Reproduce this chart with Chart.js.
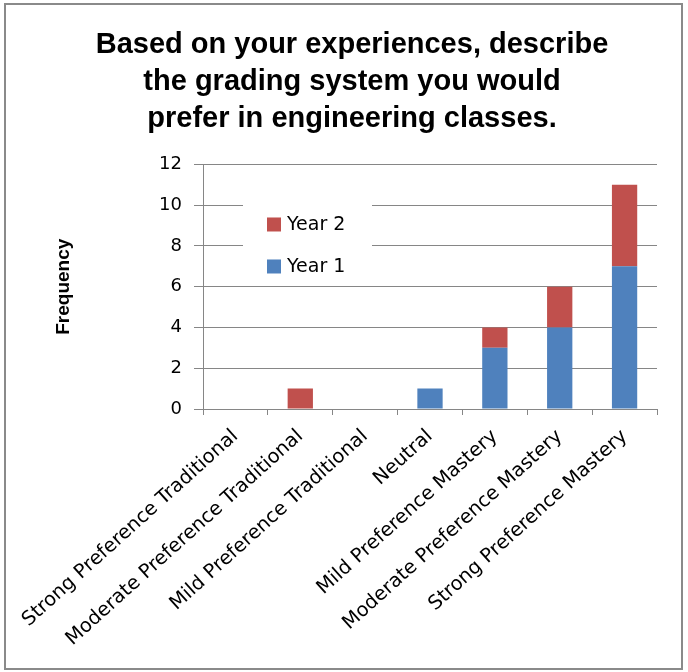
<!DOCTYPE html>
<html lang="en">
<head>
    <meta charset="UTF-8">
    <title>Grading System Preference</title>
    <script src="https://cdn.jsdelivr.net/npm/chart.js"></script>
    <style>
        html, body { margin: 0; padding: 0; background: #fff; }
        .wrap { position: relative; width: 688px; height: 672px; }
        .frame {
            position: absolute; left: 4px; top: 3px;
            width: 675px; height: 663px;
            border: 2px solid #8a8a8a;
            pointer-events: none;
        }
    </style>
</head>
<body>
    <div class="wrap">
        <canvas id="gradingChart" width="688" height="672"></canvas>
        <div class="frame"></div>
    </div>

    <script>
        // chart values
        const categories = [
            'Strong Preference Traditional',
            'Moderate Preference Traditional',
            'Mild Preference Traditional',
            'Neutral',
            'Mild Preference Mastery',
            'Moderate Preference Mastery',
            'Strong Preference Mastery'
        ];
        const year1 = [0, 0, 0, 1, 3, 4, 7];
        const year2 = [0, 1, 0, 0, 1, 2, 4];
        const yTicks = [0, 2, 4, 6, 8, 10, 12];

        const gridGray = '#868686';

        // legend drawn inside the plot area, like the original
        const insideLegend = {
            id: 'insideLegend',
            afterDraw(chart) {
                const ctx = chart.ctx;
                const area = chart.chartArea;
                const x = area.left + 40;
                const y = area.top + 25;
                ctx.save();
                ctx.fillStyle = '#fff';
                ctx.fillRect(x, y, 129, 95);
                const items = chart.data.datasets.slice().reverse();
                ctx.font = '19px "DejaVu Sans"';
                ctx.textBaseline = 'middle';
                items.forEach((ds, i) => {
                    const cy = area.top + 60 + i * 42;
                    ctx.fillStyle = ds.backgroundColor;
                    ctx.fillRect(x + 24, cy - 7, 14, 14);
                    ctx.fillStyle = '#000';
                    ctx.fillText(ds.label, x + 44, cy + 1);
                });
                ctx.restore();
            }
        };

        new Chart(document.getElementById('gradingChart'), {
            type: 'bar',
            data: {
                labels: categories,
                datasets: [
                    { label: 'Year 1', data: year1, backgroundColor: '#4f81bd' },
                    { label: 'Year 2', data: year2, backgroundColor: '#c0504d' }
                ]
            },
            options: {
                responsive: false,
                animation: false,
                layout: { padding: { left: 47, right: 31, top: 0, bottom: 0 } },
                datasets: { bar: { categoryPercentage: 1, barPercentage: 0.39 } },
                plugins: {
                    legend: { display: false },
                    tooltip: { enabled: false },
                    title: {
                        display: true,
                        text: [
                            'Based on your experiences, describe',
                            'the grading system you would',
                            'prefer in engineering classes.'
                        ],
                        color: '#000',
                        font: { family: 'Liberation Sans', size: 29, weight: 'bold', lineHeight: 1.27 },
                        padding: { top: 27, bottom: 27 }
                    }
                },
                scales: {
                    x: {
                        stacked: true,
                        grid: { offset: true, drawOnChartArea: false, color: gridGray, tickLength: 6 },
                        border: { color: gridGray },
                        ticks: {
                            color: '#000', font: { family: 'DejaVu Sans', size: 19.5 },
                            autoSkip: false, minRotation: 42, maxRotation: 42, padding: 10
                        },
                        afterFit(scale) { scale.height = 263; }
                    },
                    y: {
                        stacked: true,
                        min: 0,
                        max: 12,
                        afterBuildTicks(scale) { scale.ticks = yTicks.map(v => ({ value: v })); },
                        grid: { color: gridGray, tickLength: 9 },
                        border: { color: gridGray },
                        ticks: { color: '#000', font: { family: 'DejaVu Sans', size: 18 }, padding: 12 },
                        title: {
                            display: true,
                            text: 'Frequency',
                            color: '#000',
                            font: { family: 'Liberation Sans', size: 19, weight: 'bold' },
                            padding: { top: 5 }
                        },
                        afterFit(scale) { scale.width = 156; }
                    }
                }
            },
            plugins: [insideLegend]
        });
    </script>
</body>
</html>
